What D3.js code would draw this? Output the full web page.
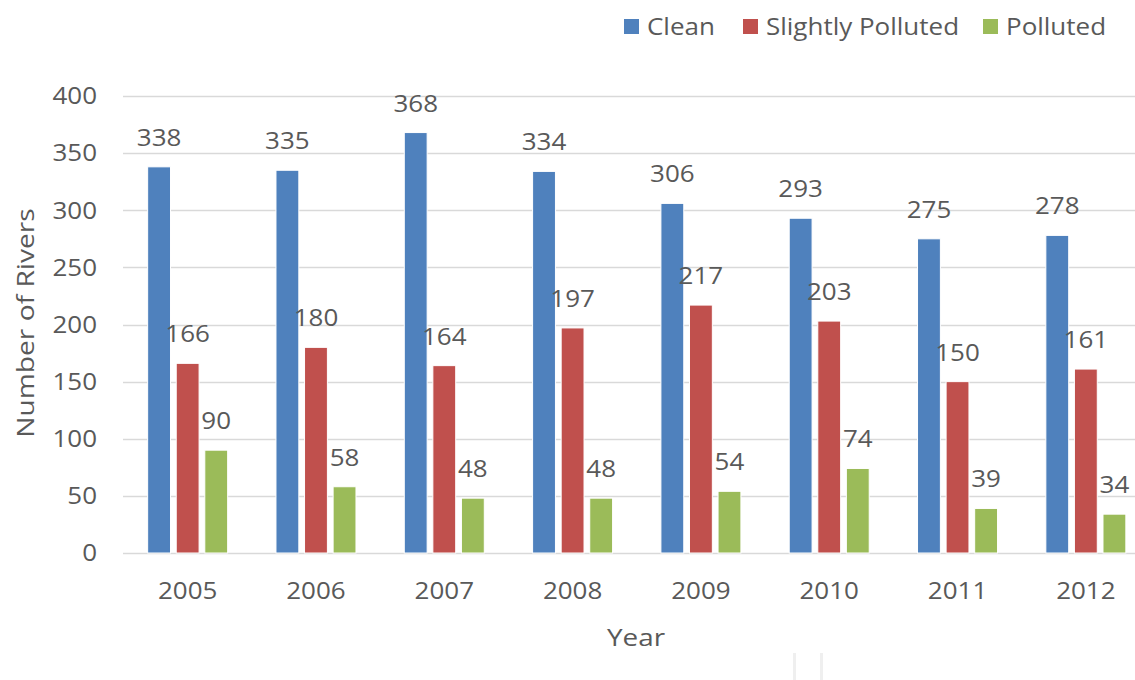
<!DOCTYPE html>
<html>
<head>
<meta charset="utf-8">
<script src="https://cdn.jsdelivr.net/npm/d3@7"></script>
<style>
  body { margin: 0; background: #fff; }
  svg { display: block; }
</style>
</head>
<body>
<svg id="chart"></svg>
<script>
const years = ["2005", "2006", "2007", "2008", "2009", "2010", "2011", "2012"];
const seriesNames = ["Clean", "Slightly Polluted", "Polluted"];
const clean = [338, 335, 368, 334, 306, 293, 275, 278];
const slightlyPolluted = [166, 180, 164, 197, 217, 203, 150, 161];
const polluted = [90, 58, 48, 48, 54, 74, 39, 34];
const yTicks = [0, 50, 100, 150, 200, 250, 300, 350, 400];

const width = 1135, height = 680;
const seriesValues = [clean, slightlyPolluted, polluted];
const colors = ["#4f81bd", "#c0504d", "#9bbb59"];
const textColor = "#595959";
const font = "'Open Sans', 'Segoe UI', sans-serif";
const sx = 1.13; // the reference text is a bit wider than Open Sans

const svg = d3.select("#chart")
  .attr("width", width)
  .attr("height", height)
  .attr("font-family", font);

const x0 = d3.scaleBand()
  .domain(years)
  .range([123.5, 1150])
  .paddingInner(0.3765)
  .paddingOuter(0.3765 / 2);

const x1 = d3.scaleBand()
  .domain(seriesNames)
  .range([0, x0.bandwidth()])
  .paddingInner(0.2);

const y = d3.scaleLinear().domain([0, 400]).range([553, 96]);

const at = (x, yy) => `translate(${x},${yy}) scale(${sx},1)`;

// gridlines
svg.append("g")
  .selectAll("line")
  .data(yTicks)
  .join("line")
  .attr("x1", 123)
  .attr("x2", width)
  .attr("y1", d => Math.round(y(d)) + 0.5)
  .attr("y2", d => Math.round(y(d)) + 0.5)
  .attr("stroke", "#d9d9d9")
  .attr("stroke-width", 1.5);

// y tick labels
svg.append("g")
  .selectAll("text")
  .data(yTicks)
  .join("text")
  .attr("transform", d => at(97, y(d)))
  .attr("dy", "0.36em")
  .attr("text-anchor", "end")
  .attr("font-size", 23)
  .attr("fill", textColor)
  .text(d => d);

// bars
const groups = svg.append("g")
  .selectAll("g")
  .data(years)
  .join("g")
  .attr("transform", d => `translate(${x0(d)},0)`);

const bars = groups.selectAll("g")
  .data((yr, i) => seriesNames.map((s, j) => ({ series: s, value: seriesValues[j][i], color: colors[j] })))
  .join("g");

bars.append("rect")
  .attr("x", d => x1(d.series))
  .attr("width", x1.bandwidth())
  .attr("y", d => y(d.value))
  .attr("height", d => y(0) - y(d.value))
  .attr("fill", d => d.color)
  .attr("stroke", "#fff")
  .attr("stroke-width", 1);

bars.append("text")
  .attr("transform", d => at(x1(d.series) + x1.bandwidth() / 2, y(d.value) - 21))
  .attr("text-anchor", "middle")
  .attr("font-size", 23)
  .attr("fill", textColor)
  .text(d => d.value);

// x tick labels
svg.append("g")
  .selectAll("text")
  .data(years)
  .join("text")
  .attr("transform", d => at(x0(d) + x0.bandwidth() / 2, 599))
  .attr("text-anchor", "middle")
  .attr("font-size", 23)
  .attr("fill", textColor)
  .text(d => d);

// axis titles
svg.append("text")
  .attr("transform", `translate(636,646) scale(1.16,1)`)
  .attr("text-anchor", "middle")
  .attr("font-size", 24)
  .attr("fill", textColor)
  .text("Year");

svg.append("text")
  .attr("transform", "translate(34,323) rotate(-90) scale(1.15,1)")
  .attr("text-anchor", "middle")
  .attr("font-size", 24.5)
  .attr("fill", textColor)
  .text("Number of Rivers");

// legend
const legendX = [624, 743, 983];
const legend = svg.append("g")
  .selectAll("g")
  .data(seriesNames)
  .join("g")
  .attr("transform", (d, i) => `translate(${legendX[i]},19)`);

legend.append("rect")
  .attr("width", 15)
  .attr("height", 15)
  .attr("fill", (d, i) => colors[i]);

legend.append("text")
  .attr("transform", at(23, 16))
  .attr("font-size", 23)
  .attr("fill", textColor)
  .text(d => d);

// faint marks at the bottom edge
svg.append("g")
  .selectAll("rect")
  .data([793, 820])
  .join("rect")
  .attr("x", d => d)
  .attr("y", 653)
  .attr("width", 3)
  .attr("height", 27)
  .attr("fill", "#efefef");
</script>
</body>
</html>
